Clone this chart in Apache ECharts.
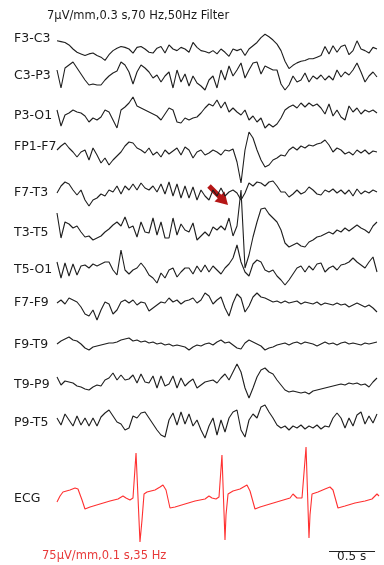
<!DOCTYPE html>
<html>
<head>
<meta charset="utf-8">
<script src="https://cdn.jsdelivr.net/npm/echarts@6/dist/echarts.min.js"></script>
<style>
  html, body { margin: 0; padding: 0; background: #fff; }
  #main { width: 384px; height: 565px; }
</style>
</head>
<body>
<div id="main"></div>
<script>
// EEG samples: one every 1/23 s, amplitude in display units (1 unit = 1 px)
const FS = 23;

const channels = ['F3-C3', 'C3-P3', 'P3-O1', 'FP1-F7', 'F7-T3', 'T3-T5', 'T5-O1', 'F7-F9', 'F9-T9', 'T9-P9', 'P9-T5'];

const f3c3 = [10,9,8,5,0,-4,-6,-8,-6,-5,-8,-10,-14,-7,-2,1,3,2,0,-5,2,3,0,-4,-5,1,3,-5,5,0,-2,2,0,-4,8,2,-2,-3,-5,-2,-6,0,-4,-9,0,-2,0,-8,0,4,8,14,18,15,11,6,-2,-15,-24,-20,-17,-15,-14,-12,-12,-10,-8,3,-6,4,-4,3,5,-7,-2,10,0,-2,-5,2,0];
const c3p3 = [5,-13,7,10,13,7,1,-5,-10,-9,-10,-10,-5,-1,2,4,13,10,3,-9,3,10,7,3,-3,0,-7,-1,3,-13,5,-7,1,-11,-1,-8,-11,-15,-5,-1,-13,5,-5,9,-1,5,12,-3,5,12,13,1,9,7,5,5,-9,-15,-10,-1,-7,-5,2,-7,-1,-4,0,-5,-1,-5,5,-2,3,0,5,12,3,-7,-1,3,-2];
const p3o1 = [5,-11,0,2,5,3,2,-1,-7,-3,-5,-2,5,3,-5,-13,5,8,12,18,9,7,5,3,1,-1,-5,1,7,5,-7,-8,-3,-5,-3,-2,2,7,11,9,15,7,13,3,7,3,0,5,-5,-1,-7,-3,-13,-9,-12,-9,-3,5,8,10,7,12,8,12,9,11,7,1,11,-1,5,-2,-5,9,3,7,1,5,3,5,2];
const fp1f7 = [-4,0,3,-2,-6,-11,-6,-4,-14,-2,-9,-17,-12,-19,-14,-10,-6,0,4,3,-2,-4,-7,-2,-9,-6,-11,-4,-8,-5,-2,-9,-1,-4,-12,-6,-4,-9,-7,-4,-6,-9,-4,-5,-3,-16,-37,-4,14,8,-4,-14,-21,-19,-14,-12,-9,-10,-4,-1,-4,0,-2,1,0,2,3,6,1,-6,-2,-4,-8,-6,-9,-4,-7,-4,-8,-5,-6];
const f7t3 = [-1,6,10,8,2,-3,2,-8,-14,-8,-6,-2,-4,2,0,6,-2,6,2,8,2,9,4,2,6,0,8,-2,10,-4,8,-6,6,-6,5,-8,2,-4,-8,2,-4,4,-4,0,2,-1,-8,-1,9,6,10,9,6,10,11,6,0,0,-5,-2,2,-2,0,5,2,-2,-3,2,0,3,-1,2,-2,2,-4,3,-2,1,-1,2,0];
const t3t5 = [19,-6,10,8,4,6,0,-5,-4,-8,-6,-4,0,3,7,10,6,15,4,6,-5,10,0,-1,14,-3,10,-6,-6,14,-3,8,2,0,9,-8,-4,0,-4,5,2,6,2,14,-4,6,42,-36,-23,-5,10,23,24,18,14,10,2,-11,-15,-13,-11,-14,-15,-10,-8,-5,-4,-2,0,-2,2,0,4,1,4,7,4,2,-1,6,10];
const t5o1 = [7,-9,6,-7,5,-6,3,4,1,5,3,5,7,7,-1,-6,19,-1,-5,-1,1,6,1,-6,-9,-14,-4,-9,-1,1,-8,-3,1,1,-5,3,-3,4,-3,3,-1,-5,1,5,11,24,7,-3,-7,5,9,7,-1,-3,-1,-7,-11,-16,-11,-5,1,3,-3,3,-1,5,6,-3,1,3,-1,4,5,7,11,7,4,1,7,12,-3];
const f7f9 = [-1,2,-2,4,2,0,-5,-12,-14,-8,-18,-8,0,-2,-12,-8,0,2,-1,2,-3,0,-1,-9,-6,-3,0,-1,4,0,2,-2,1,2,4,-1,2,9,6,-2,2,5,-6,-14,-1,8,4,-10,-4,5,9,5,4,2,0,1,-1,1,-1,0,1,-2,0,-1,-2,0,-3,-1,-2,-3,-1,-3,-2,-5,-3,-1,-3,-5,-3,-6,-10];
const f9t9 = [0,3,5,7,4,3,0,-4,-6,-3,-2,-1,0,1,1,2,4,5,6,3,4,2,3,1,2,0,1,-1,0,-2,-1,-2,-3,-6,-3,-1,-2,0,1,-1,2,4,1,2,-1,-4,-5,1,4,2,0,-2,-6,-4,-3,-1,0,1,-1,1,2,0,2,1,0,-2,0,2,0,1,-1,1,2,0,1,0,-1,1,0,1,2];
const t9p9 = [7,-1,3,2,1,-2,-3,-5,-6,-3,-1,-2,4,6,11,4,9,4,5,9,1,10,2,1,8,-4,8,-2,0,8,-4,6,-2,2,5,-4,-1,2,3,4,1,6,10,4,12,20,12,-4,-14,-4,7,14,16,12,10,4,-1,-6,-8,-7,-8,-9,-8,-10,-7,-6,-5,-4,-3,-2,-1,0,-1,1,0,1,-1,0,-3,2,6];
const p9t5 = [4,-3,8,2,-4,6,-3,4,-4,4,-4,5,9,12,6,0,-2,-8,-6,6,4,9,10,4,-2,-8,-13,-15,2,9,-3,10,-2,8,-4,2,-8,-16,-4,4,-13,2,-10,4,10,12,-8,-15,2,8,4,15,17,10,4,-3,-6,-4,-8,-4,-6,-3,-7,-4,-6,-3,-7,-4,-5,4,9,4,-6,4,-4,7,10,-2,6,-1,8];

const eegData = [f3c3, c3p3, p3o1, fp1f7, f7t3, t3t5, t5o1, f7f9, f9t9, t9p9, p9t5];

// ECG: time (s) and amplitude
const ecgT = [0,0.033,0.065,0.141,0.196,0.228,0.272,0.304,0.359,0.467,0.576,0.663,0.717,0.750,0.793,0.826,0.859,0.902,0.924,0.946,0.978,1.065,1.120,1.152,1.185,1.228,1.283,1.391,1.500,1.609,1.652,1.685,1.728,1.761,1.793,1.826,1.837,1.859,1.913,1.989,2.065,2.098,2.152,2.207,2.315,2.424,2.533,2.565,2.609,2.663,2.707,2.739,2.750,2.772,2.837,2.913,2.967,3.000,3.054,3.130,3.239,3.348,3.424,3.478,3.500];
const ecgV = [-4,2,6,8,10,9,-2,-11,-9,-6,-3,-1,2,0,-2,0,45,-44,-22,4,6,8,11,13,8,-10,-9,-6,-3,-1,2,0,-1,1,43,-42,-17,4,7,9,13,7,-11,-9,-6,-3,0,4,0,0,51,-40,-17,4,6,9,11,8,-10,-8,-5,-3,-1,4,2];

const scaleBar = 0.5; // s

// layout
const rowY = [38, 75, 115, 146, 192, 232, 269, 302, 344, 384, 422];
const ecgY = 498;
const half = 60;
const font = 'DejaVu Sans';

const grids = [], xAxes = [], yAxes = [], series = [], labels = [];

function addRow(y, name, data, color) {
    const k = grids.length;
    grids.push({ left: 57, right: 5, top: y - half, height: half * 2 });
    xAxes.push({ type: 'value', gridIndex: k, min: 0, max: 3.5, show: false });
    yAxes.push({ type: 'value', gridIndex: k, min: -half, max: half, show: false });
    series.push({
        type: 'line', name: name, xAxisIndex: k, yAxisIndex: k,
        data: data, showSymbol: false, symbol: 'none', clip: false,
        lineStyle: { color: color, width: 1.1 }
    });
    labels.push({
        type: 'text', left: 14, top: y - 6,
        style: { text: name, fontSize: 12.5, fontFamily: font, fill: '#1a1a1a' }
    });
}

channels.forEach(function (name, i) {
    addRow(rowY[i], name, eegData[i].map(function (v, j) { return [j / FS, v]; }), '#1e1e1e');
});
addRow(ecgY, 'ECG', ecgT.map(function (t, j) { return [t, ecgV[j]]; }), '#ff3030');

// 0.5 s calibration bar under the ECG
series[series.length - 1].markLine = {
    silent: true, symbol: 'none', label: { show: false },
    lineStyle: { color: '#222', width: 1, type: 'solid' },
    data: [[{ coord: [2.957, -53] }, { coord: [2.957 + scaleBar, -53] }]]
};

const option = {
    animation: false,
    backgroundColor: '#fff',
    grid: grids,
    xAxis: xAxes,
    yAxis: yAxes,
    series: series,
    graphic: labels.concat([
        {
            type: 'text', left: 47, top: 10,
            style: { text: '7µV/mm,0.3 s,70 Hz,50Hz Filter', fontSize: 11.5, fontFamily: font, fill: '#1a1a1a' }
        },
        {
            type: 'text', left: 42, top: 550,
            style: { text: '75µV/mm,0.1 s,35 Hz', fontSize: 11.5, fontFamily: font, fill: '#e83a3a' }
        },
        {
            type: 'text', left: 337, top: 551,
            style: { text: '0.5 s', fontSize: 12, fontFamily: font, fill: '#1a1a1a' }
        },
        {
            type: 'line', silent: true,
            shape: { x1: 209, y1: 186, x2: 220, y2: 197 },
            style: { stroke: '#b51616', lineWidth: 5 }
        },
        {
            type: 'polygon', silent: true,
            shape: { points: [[228, 205], [224.5, 191.5], [214.5, 201.5]] },
            style: { fill: '#b51616' }
        }
    ])
};

const myChart = echarts.init(document.getElementById('main'));
myChart.setOption(option);
</script>
</body>
</html>
